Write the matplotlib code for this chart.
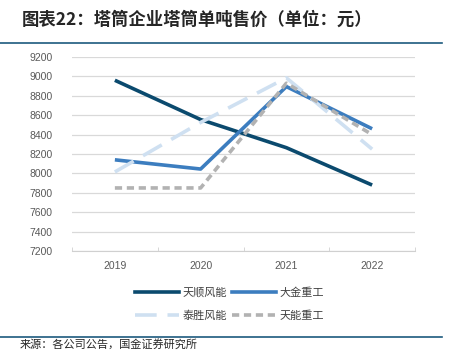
import numpy as np
import matplotlib.pyplot as plt
from matplotlib.lines import Line2D

plt.rcParams['font.family'] = ['Noto Sans CJK SC', 'DejaVu Sans']

years = ['2019', '2020', '2021', '2022']
tianshun = [8960, 8555, 8265, 7880]
dajin = [8140, 8045, 8895, 8460]
taisheng = [8015, 8525, 8985, 8250]
tianneng = [7850, 7850, 8930, 8400]

fig = plt.figure(figsize=(4.59, 3.51), dpi=100)
ax = fig.add_axes([72/459, 1-251/351, 343/459, 194/351])

x = np.arange(len(years))
ax.plot(x, tianshun, color='#0b4a6e', lw=2.6, label='天顺风能', solid_capstyle='butt')
ax.plot(x, dajin, color='#3c7dbf', lw=2.6, label='大金重工', solid_capstyle='butt')
ax.plot(x, taisheng, color='#cfe0f1', lw=2.6, dashes=(6, 3), label='泰胜风能')
ax.plot(x, tianneng, color='#b2b2b2', lw=2.6, dashes=(2, 1.3), label='天能重工')

ax.set_xlim(-0.5, 3.5)
ax.set_ylim(7200, 9200)
ax.set_yticks(np.arange(7200, 9201, 200))
ax.set_xticks(x)
ax.set_xticklabels(years)
ax.set_xticks(np.arange(-0.5, 3.6, 1), minor=True)
ax.grid(axis='y', color='#d9d9d9', lw=0.9)
ax.set_axisbelow(True)
for s in ['top', 'right', 'left']:
    ax.spines[s].set_visible(False)
ax.spines['bottom'].set_color('#d0d0d0')
ax.tick_params(axis='y', length=0, labelsize=7.5, labelcolor='#595959', pad=14)
ax.tick_params(axis='x', which='major', length=0, labelsize=7.5, labelcolor='#595959', pad=7)
ax.tick_params(axis='x', which='minor', length=3, direction='in', color='#d0d0d0')
for lab in ax.get_xticklabels() + ax.get_yticklabels():
    lab.set_family(['Liberation Sans', 'DejaVu Sans'])

# row-wise legend order: fig.legend fills columns first
handles = [Line2D([], [], color='#0b4a6e', lw=2.6),
           Line2D([], [], color='#cfe0f1', lw=2.6, dashes=(6, 3)),
           Line2D([], [], color='#3c7dbf', lw=2.6),
           Line2D([], [], color='#b2b2b2', lw=2.6, dashes=(2, 1.3))]
labels = ['天顺风能', '泰胜风能', '大金重工', '天能重工']
fig.legend(handles, labels, ncol=2, loc='center', bbox_to_anchor=(0.5, 1-304/351),
           frameon=False, fontsize=8, handlelength=4.0, handletextpad=0.3,
           columnspacing=0.4, labelspacing=1.1, labelcolor='#404040')

fig.text(22/459, 1-20/351, '图表22：塔筒企业塔筒单吨售价（单位：元）', fontsize=12.5,
         fontweight='bold', color='#262626', va='center', style='italic')
fig.add_artist(Line2D([0, 442/459], [1-43/351, 1-43/351], color='#1d5a7e', lw=1.2))
fig.add_artist(Line2D([0, 442/459], [1-337/351, 1-337/351], color='#1d5a7e', lw=1.2))
fig.text(20/459, 1-350/351, '来源：各公司公告，国金证券研究所', fontsize=8, color='#262626', va='bottom')

fig.savefig('out.png', dpi=100)
